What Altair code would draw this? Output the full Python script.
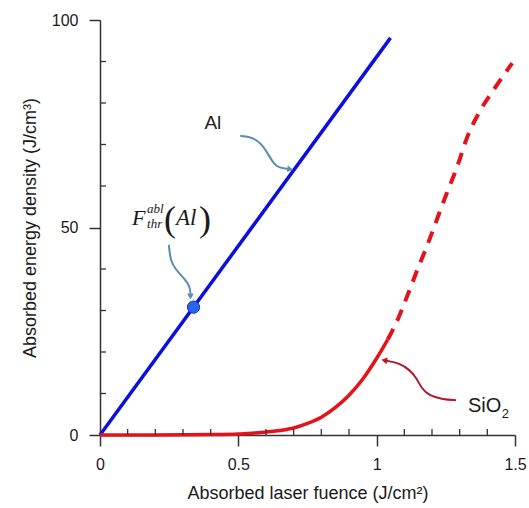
import altair as alt
import pandas as pd

# ---------------- data ----------------
al_x = [0.0, 1.05]
al_y = [0.0, 95.7]

sio2_solid_x = [0, 0.1, 0.2, 0.3, 0.4, 0.5, 0.55, 0.6, 0.65, 0.7, 0.75, 0.8, 0.85, 0.9, 0.95, 1.0, 1.04]
sio2_solid_y = [0, 0, 0, 0.05, 0.1, 0.25, 0.45, 0.7, 1.1, 1.7, 2.8, 4.3, 6.6, 9.6, 13.5, 18.5, 23.0]

sio2_dash_x = [1.04, 1.078, 1.114, 1.147, 1.181, 1.217, 1.253, 1.289, 1.328, 1.37, 1.422, 1.49]
sio2_dash_y = [23.0, 28.1, 34.1, 39.8, 45.4, 51.8, 58.2, 64.3, 71.9, 77.7, 83.1, 89.6]

thr_point_x = [0.338]
thr_point_y = [30.8]

x_major = [0, 0.5, 1, 1.5]
y_major = [0, 50, 100]
x_minor = [0.1, 0.2, 0.3, 0.4, 0.6, 0.7, 0.8, 0.9, 1.1, 1.2, 1.3, 1.4]
y_minor = [10, 20, 30, 40, 60, 70, 80, 90]

# annotation arrows (data units)
al_arrow_x = [0.507, 0.537, 0.567, 0.591, 0.609, 0.627, 0.645, 0.680]
al_arrow_y = [72.1, 71.9, 71.1, 69.5, 67.5, 65.5, 64.4, 64.1]
thr_arrow_x = [0.249, 0.253, 0.262, 0.285, 0.309, 0.325, 0.327]
thr_arrow_y = [45.8, 43.0, 41.0, 39.0, 37.4, 35.7, 34.0]
sio2_arrow_x = [1.287, 1.239, 1.191, 1.161, 1.145, 1.119, 1.083, 1.035]
sio2_arrow_y = [8.4, 8.6, 9.4, 11.3, 13.7, 15.7, 17.3, 17.9]

head_x = [0.684, 0.327, 1.031]
head_y = [64.1, 33.6, 17.95]
head_angle = [97, 180, 280]
head_color = ["#5a8db5", "#5a8db5", "#b3182a"]

W, H = 415, 415
AX = "#333333"
TXT = "#1a1a1a"
xs = alt.Scale(domain=[0, 1.5], nice=False, zero=False)
ys = alt.Scale(domain=[0, 100], nice=False, zero=False)

common_axis = dict(
    grid=False, tickSize=11, labelFontSize=16, titleFontSize=18,
    labelFont="Liberation Sans", titleFont="Liberation Sans", titleFontWeight="normal",
    domainColor=AX, tickColor=AX, domainWidth=1.5, tickWidth=1.5,
    labelColor=TXT, titleColor=TXT, labelOverlap=False, labelFlush=False,
)
x_axis = alt.Axis(values=x_major, format="~r", labelPadding=10,
                  title="Absorbed laser fuence (J/cm²)", titlePadding=12, **common_axis)
y_axis = alt.Axis(values=y_major, format="d", labelPadding=11,
                  title="Absorbed energy density (J/cm³)", titlePadding=12, **common_axis)


def X(f="x"):
    return alt.X(f"{f}:Q", scale=xs, axis=x_axis)


def Y(f="y"):
    return alt.Y(f"{f}:Q", scale=ys, axis=y_axis)


al_df = pd.DataFrame({"x": al_x, "y": al_y})
al_line = alt.Chart(al_df).mark_line(color="#0c0fdc", strokeWidth=3.5).encode(x=X(), y=Y())

solid_df = pd.DataFrame({"x": sio2_solid_x, "y": sio2_solid_y})
solid = alt.Chart(solid_df).mark_line(color="#e3131b", strokeWidth=3.5, interpolate="monotone").encode(
    x=X(), y=Y())

dash_df = pd.DataFrame({"x": sio2_dash_x, "y": sio2_dash_y})
dashed = alt.Chart(dash_df).mark_line(color="#e3131b", strokeWidth=4, strokeDash=[12, 9],
                                      interpolate="monotone").encode(x=X(), y=Y())

pt = alt.Chart(pd.DataFrame({"x": thr_point_x, "y": thr_point_y})).mark_point(
    filled=True, shape="circle", size=150, color="#2b63ea", stroke="#1638b8", strokeWidth=1,
    opacity=1).encode(x=X(), y=Y())

xminor = alt.Chart(pd.DataFrame({"x": x_minor})).mark_rule(color=AX, strokeWidth=1.3).encode(
    x=X(), y=alt.value(H), y2=alt.value(H - 6))
yminor = alt.Chart(pd.DataFrame({"y": y_minor})).mark_rule(color=AX, strokeWidth=1.3).encode(
    y=Y(), x=alt.value(0), x2=alt.value(6))


def arrow(xv, yv, color):
    df = pd.DataFrame({"x": xv, "y": yv, "i": list(range(len(xv)))})
    return alt.Chart(df).mark_line(color=color, strokeWidth=2, interpolate="basis").encode(
        x=X(), y=Y(), order="i:Q")


a1 = arrow(al_arrow_x, al_arrow_y, "#5a8db5")
a2 = arrow(thr_arrow_x, thr_arrow_y, "#5a8db5")
a3 = arrow(sio2_arrow_x, sio2_arrow_y, "#b3182a")

heads = alt.Chart(pd.DataFrame({"x": head_x, "y": head_y, "a": head_angle, "c": head_color})).mark_point(
    shape="triangle", filled=True, size=45, opacity=1).encode(
    x=X(), y=Y(), angle=alt.Angle("a:Q", scale=None), color=alt.Color("c:N", scale=None))

# text annotations
al_lbl = alt.Chart(pd.DataFrame({"x": [0.408], "y": [75.2], "t": ["Al"]})).mark_text(
    font="Liberation Sans", fontSize=19, color=TXT, align="center", baseline="middle").encode(
    x=X(), y=Y(), text="t:N")

sio_lbl = alt.Chart(pd.DataFrame({"x": [1.330], "y": [5.5], "t": ["SiO"]})).mark_text(
    font="Liberation Sans", fontSize=20, color=TXT, align="left", baseline="alphabetic").encode(
    x=X(), y=Y(), text="t:N")
sio_sub = alt.Chart(pd.DataFrame({"x": [1.452], "y": [4.2], "t": ["2"]})).mark_text(
    font="Liberation Sans", fontSize=13, color=TXT, align="left", baseline="alphabetic").encode(
    x=X(), y=Y(), text="t:N")


def serif(xv, yv, t, size, style):
    return alt.Chart(pd.DataFrame({"x": [xv], "y": [yv], "t": [t]})).mark_text(
        font="Liberation Serif", fontSize=size, fontStyle=style, color=TXT,
        align="left", baseline="alphabetic").encode(x=X(), y=Y(), text="t:N")


m_F = serif(0.1157, 50.6, "F", 22, "italic")
m_sup = serif(0.170, 53.5, "abl", 13, "italic")
m_sub = serif(0.170, 49.9, "thr", 13, "italic")
m_lp = serif(0.2313, 49.2, "(", 36, "normal")
m_al = serif(0.2747, 50.6, "Al", 23, "italic")
m_rp = serif(0.3578, 49.2, ")", 36, "normal")

chart = alt.layer(
    al_line, solid, dashed, xminor, yminor, a1, a2, a3, heads, pt,
    al_lbl, sio_lbl, sio_sub, m_F, m_sup, m_sub, m_lp, m_al, m_rp
).properties(
    width=W, height=H,
    padding={"left": 100, "top": 20, "right": 14, "bottom": 73},
    autosize=alt.AutoSizeParams(type="none"),
).configure_view(stroke=None)

chart.save("out.html", embed_options={"renderer": "svg", "actions": False})
